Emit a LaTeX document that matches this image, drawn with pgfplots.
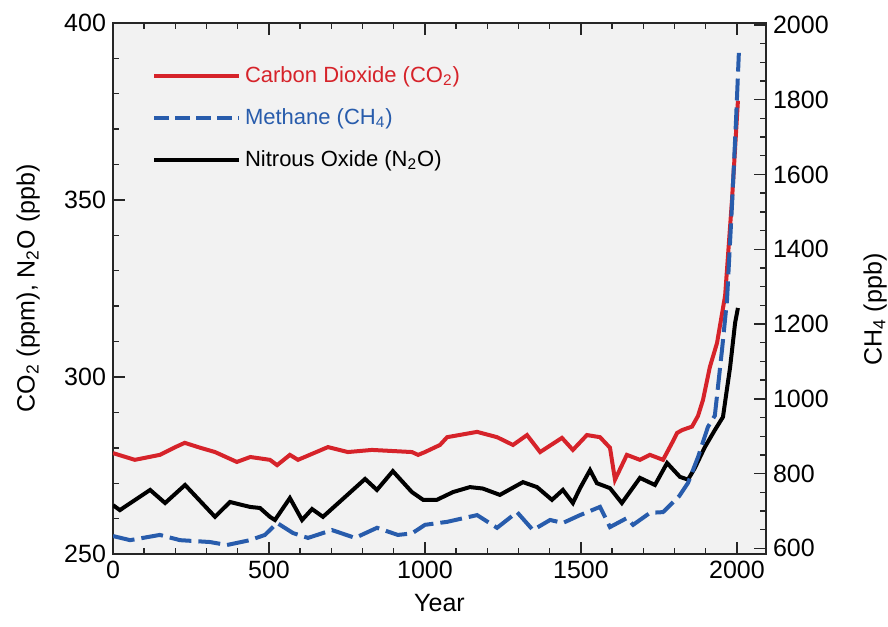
\documentclass[border=0pt]{standalone}
\usepackage{pgfplots}
\pgfplotsset{compat=1.18}
\usepackage{fontspec}
\setmainfont{Liberation Sans}
\definecolor{co2red}{RGB}{214,35,42}
\definecolor{ch4blue}{RGB}{40,92,172}
\definecolor{bggray}{RGB}{242,242,242}

\begin{document}
\begin{tikzpicture}
\pgfplotsset{
  every axis/.append style={
    scale only axis, width=326.5pt, height=265.5pt,
    xmin=0, xmax=2093,
    tick align=inside,
    major tick length=6pt, minor tick length=3pt,
    every tick/.style={line width=0.7pt, black!85},
    axis line style={line width=0.9pt, black!85},
    /pgf/number format/assume math mode=true,
    /pgf/number format/1000 sep={},
    tick label style={font=\fontsize{12.5}{15}\selectfont},
    label style={font=\fontsize{12.5}{15}\selectfont},
  }
}
\begin{axis}[
  name=ax,
  axis background/.style={fill=bggray},
  ymin=250, ymax=400,
  ytick={250,300,350,400},
  minor y tick num=4,
  xtick={0,500,...,2000},
  minor x tick num=4,
  ytick pos=left,
  xtick pos=both,
  xticklabel pos=bottom,
  xlabel={Year},
  ylabel={CO\textsubscript{2} (ppm), N\textsubscript{2}O (ppb)},
  xlabel style={at={(axis description cs:0.5,-0.092)}, anchor=center},
  ylabel style={at={(axis description cs:-0.13,0.5)}, anchor=center},
  legend style={at={(axis description cs:0.05,0.934)}, anchor=north west, draw=none, fill=none,
    font=\fontsize{11}{13}\selectfont, row sep=7.6pt},
  legend cell align=left,
  legend image code/.code={\draw[#1] (0pt,0pt) -- (38.5pt,0pt); \path (0pt,0pt) -- (42.5pt,0pt);},
]
\addplot[co2red, line width=2pt] coordinates {
(0,278.5) (70,276.6) (150,278) (200,280.2) (230,281.4) (280,280) (327,278.8) (397,276)
(440,277.4) (503,276.6) (526,275.1) (567,278) (593,276.6) (689,280.2) (753,278.8)
(830,279.4) (958,278.8) (978,278) (1000,278.8) (1048,280.8) (1071,283) (1167,284.5)
(1231,283) (1282,280.8) (1327,283.6) (1369,278.8) (1439,282.8) (1474,279.4) (1519,283.6)
(1561,283) (1593,280) (1609,271) (1647,278) (1689,276.6) (1721,278) (1763,276.6)
(1792,281.4) (1808,284.2) (1824,285) (1856,286) (1875,289) (1891,293.5) (1913,302.8)
(1936,309.6) (1962,323) (1984,350) (2003,378)
};
\addlegendentry{\textcolor{co2red}{Carbon Dioxide (CO\textsubscript{2})}}
\addlegendimage{ch4blue, line width=2pt, dash pattern=on 7.5pt off 3pt}
\addlegendentry{\textcolor{ch4blue}{Methane (CH\textsubscript{4})}}
\addplot[black, line width=2pt] coordinates {
(0,263.8) (22,262.4) (119,268.1) (167,264.4) (231,269.5) (327,260.5) (375,264.7)
(439,263.3) (471,263) (503,260.5) (519,259.6) (567,265.8) (606,259.6) (638,262.7)
(673,260.5) (808,271.2) (846,268.1) (897,273.4) (958,267.5) (994,265.3) (1038,265.3)
(1090,267.5) (1144,268.9) (1185,268.5) (1240,266.7) (1314,270.3) (1359,268.9)
(1407,265.3) (1442,268.1) (1474,264.4) (1497,268.6) (1529,273.7) (1551,270)
(1593,268.6) (1631,264.4) (1689,271.5) (1737,269.5) (1776,275.7) (1817,271.8)
(1843,271) (1865,274.3) (1897,280.2) (1929,285) (1955,288.7) (1978,302.8)
(1994,315.3) (2003,319.5)
};
\addlegendentry{Nitrous Oxide (N\textsubscript{2}O)}
\end{axis}
\begin{axis}[
  ymin=585, ymax=2005,
  axis y line*=right, axis x line=none,
  ytick={600,800,...,2000},
  minor y tick num=3,
  ylabel={CH\textsubscript{4} (ppb)},
  ylabel style={at={(axis description cs:1.167,0.46)}, anchor=center},
]
\addplot[ch4blue, line width=2pt, dash pattern=on 11pt off 3.5pt] coordinates {
(0,633) (55,622) (150,636) (215,622) (311,617) (365,609) (439,622) (487,636)
(526,668) (577,641) (625,628) (702,649) (776,628) (846,655) (913,636) (958,640)
(1000,663) (1071,671) (1167,689) (1231,655) (1295,697) (1346,649) (1401,676)
(1442,668) (1497,689) (1561,711) (1593,657) (1647,681) (1667,663) (1721,695)
(1763,697) (1815,740) (1843,775) (1875,844) (1907,925) (1929,955) (1952,1131)
(1968,1264) (1984,1518) (1997,1746) (2006,1925)
};
\end{axis}
\pgfresetboundingbox
\path ([shift={(-56.5pt,-36pt)}]ax.south west) rectangle ([shift={(61pt,11.5pt)}]ax.north east);
\end{tikzpicture}
\end{document}
